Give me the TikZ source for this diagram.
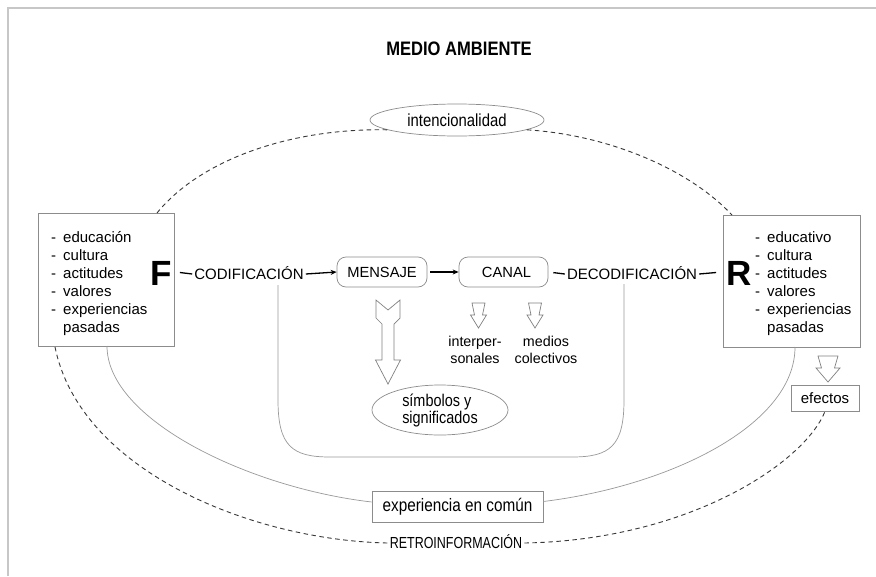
\documentclass[tikz,border=0pt]{standalone}
\usepackage{fontspec}
\setmainfont{Liberation Sans}
\newfontfamily\narrowsans[FakeStretch=0.85]{Liberation Sans}
\newfontfamily\tightsans[FakeStretch=0.78]{Liberation Sans}
\usetikzlibrary{arrows.meta,shapes.geometric}

\begin{document}
\begin{tikzpicture}[x=1pt,y=-1pt,
  boxline/.style={draw=black!45, line width=0.7pt},
  plainbox/.style={boxline, rectangle, inner sep=0pt},
  roundbox/.style={boxline, rectangle, rounded corners=9pt, inner sep=0pt,
    font=\fontsize{14.7}{17}\selectfont, text height=10.5pt, text depth=0pt},
  ovalbox/.style={boxline, ellipse, inner sep=0pt},
  capstxt/.style={inner sep=2pt, font=\fontsize{15}{17}\selectfont,
    text height=10.7pt, text depth=0pt},
  bigletter/.style={inner sep=0pt, font=\bfseries\fontsize{35}{35}\selectfont,
    text height=25pt, text depth=0pt},
  listtxt/.style={anchor=base west, inner sep=0pt, font=\fontsize{15}{18}\selectfont},
  flowline/.style={line width=1.3pt},
  flowarrow/.style={line width=1.3pt, -{Stealth[length=6pt,width=5pt]}},
  feedback/.style={draw=black!78, line width=0.9pt, dash pattern=on 4.5pt off 3.5pt},
  sharedline/.style={draw=black!40, line width=0.7pt},
  hollow/.style={draw=black!50, line width=0.7pt, fill=white, line join=miter},
]
\useasboundingbox (0,0) rectangle (876,576);
\fill[white] (0,0) rectangle (876,576);
% page frame (top and left edges)
\draw[black!22, line width=1.4pt] (8,576) -- (8,8) -- (876,8);

% title
\node[inner sep=0pt, font=\narrowsans\bfseries\fontsize{19.5}{22}\selectfont] (title) at (459,49) {MEDIO AMBIENTE};

% intention ellipse
\node[ovalbox, minimum width=174pt, minimum height=32pt,
  font=\narrowsans\fontsize{17.5}{19}\selectfont] (intent) at (457,120) {intencionalidad};

% source and receiver boxes
\node[plainbox, minimum width=136pt, minimum height=133pt] (Fbox) at (106,279.5) {};
\node[plainbox, minimum width=137pt, minimum height=132pt] (Rbox) at (791.5,281) {};

\foreach \w [count=\i] in {educación,cultura,actitudes,valores,experiencias}{
  \node[listtxt] (fd\i) at (51,224+18*\i) {-};
  \node[listtxt] (ft\i) at (63,224+18*\i) {\w};
}
\node[listtxt] (ft6) at (63,332) {pasadas};

\foreach \w [count=\i] in {educativo,cultura,actitudes,valores,experiencias}{
  \node[listtxt] (rd\i) at (755,224+18*\i) {-};
  \node[listtxt] (rt\i) at (767,224+18*\i) {\w};
}
\node[listtxt] (rt6) at (767,332) {pasadas};

\node[bigletter] (Fl) at (161,272.5) {F};
\node[bigletter] (Rl) at (739,272.5) {R};

% main chain
\node[capstxt] (codif) at (249,274) {CODIFICACIÓN};
\node[roundbox, minimum width=90pt, minimum height=30pt] (msg) at (382,272) {MENSAJE};
\node[roundbox, minimum width=89pt, minimum height=30pt] (canal) at (503.5,272) {\hspace{6pt}CANAL};
\node[capstxt] (decod) at (632,274) {DECODIFICACIÓN};

\draw[flowline] ([xshift=8pt]Fl.east) -- (codif.west);
\draw[flowarrow] (codif.east) -- (msg.west);
\draw[flowarrow, shorten <=3pt] (msg.east) -- (canal.west);
\draw[flowline, shorten <=5pt] (canal.east) -- (decod.west);
\draw[flowline] (decod.east) -- ([xshift=-10pt]Rl.west);

% message -> symbols
\draw[hollow] (376,300) -- (388,310) -- (400,300) -- (400,318) -- (394,324)
  -- (394,360) -- (400.5,360) -- (388,384) -- (375.5,360) -- (382,360)
  -- (382,324) -- (376,318) -- cycle;
\node[ovalbox, minimum width=136pt, minimum height=50pt, align=left,
  font=\narrowsans\fontsize{17}{17}\selectfont] (symb) at (440,410) {símbolos y\\significados};

% channel kinds
\foreach \x in {478.5,535}{
  \draw[hollow] (\x-6.5,303) -- (\x+6.5,303) -- (\x+4,315) -- (\x+8,315)
    -- (\x,328) -- (\x-8,315) -- (\x-4,315) -- cycle;
}
\node[inner sep=0pt, align=center, font=\fontsize{14.3}{17}\selectfont] (inter) at (475,350) {interper-\\sonales};
\node[inner sep=0pt, align=center, font=\fontsize{14.3}{17}\selectfont] (colect) at (546,350) {medios\\colectivos};

% effects
\draw[hollow] (818,356) -- (838,356) -- (834.5,368) -- (840,368) -- (828,382)
  -- (816,368) -- (821.5,368) -- cycle;
\node[plainbox, minimum width=68pt, minimum height=26pt,
  font=\fontsize{15}{18}\selectfont] (eff) at (825,398) {efectos};

% shared experience
\node[plainbox, minimum width=171pt, minimum height=31pt,
  font=\narrowsans\fontsize{18}{20}\selectfont] (shared) at (457.5,506.5) {experiencia en común};
\node[inner sep=2pt, font=\tightsans\fontsize{16}{18}\selectfont,
  text height=11.5pt, text depth=0pt] (retro) at (456,543) {RETROINFORMACIÓN};

% coding / decoding field
\coordinate (cL) at (278,285);
\coordinate (cR) at (624,284);
\draw[sharedline] (cL) -- (278,400) .. controls (278,446) and (292,457) .. (330,457)
  -- (572,457) .. controls (610,457) and (624,446) .. (624,400) -- (cR);

% fields of experience meeting in the shared box
\coordinate (fB) at (107,346);
\coordinate (rB) at (795,347);
\draw[sharedline] (fB) .. controls (107,420) and (250,488) .. ([yshift=4.5pt]shared.west);
\draw[sharedline] ([yshift=5pt]shared.east) .. controls (670,486) and (795,425) .. (rB);

% intention arc
\coordinate (fT) at (157,213);
\coordinate (rT) at (732,215);
\draw[feedback] (fT) .. controls (200,160) and (290,128) .. (intent.188);
\draw[feedback] (intent.352) .. controls (610,135) and (690,170) .. (rT);

% feedback arc
\coordinate (fL) at (55,347);
\draw[feedback] (fL) .. controls (80,470) and (250,540) .. (retro.west);
\draw[feedback] (retro.east) .. controls (690,540) and (805,462) .. (eff.south);
\end{tikzpicture}
\end{document}
